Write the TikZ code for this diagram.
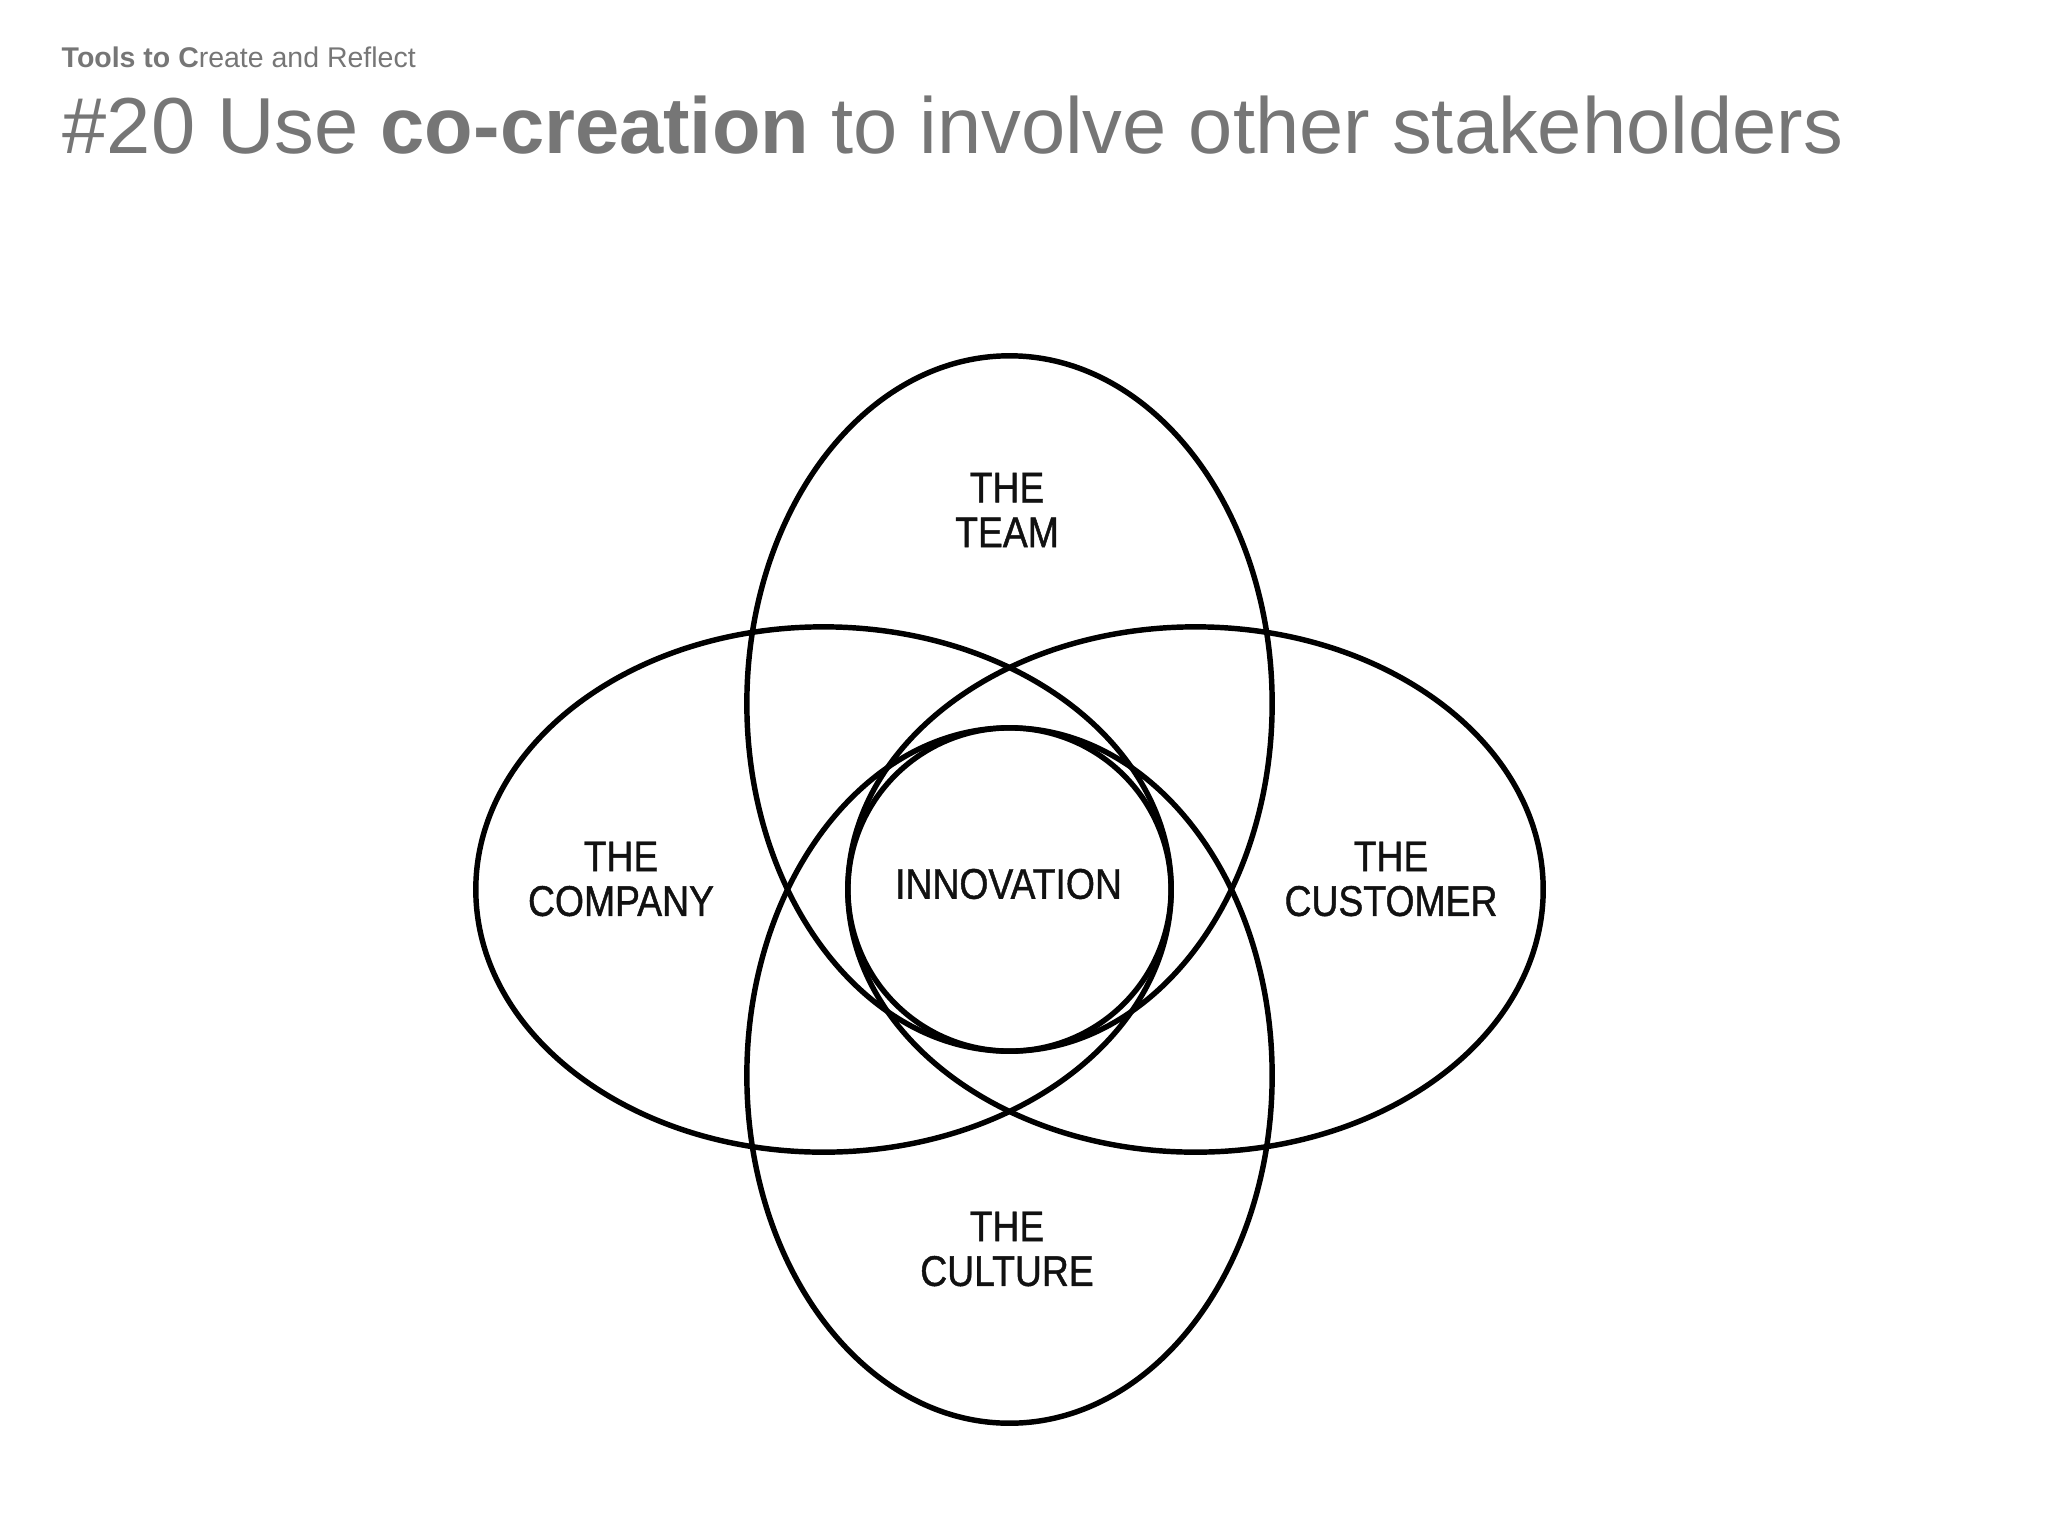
\documentclass[tikz,border=0pt]{standalone}
\usepackage{fontspec}
\setmainfont{Liberation Sans}
\newfontfamily\labelfont[FakeStretch=0.87,FakeBold=1]{Liberation Sans}
\definecolor{titlegray}{HTML}{767676}
\definecolor{labelink}{HTML}{111111}
\begin{document}
\begin{tikzpicture}[x=0.01cm,y=-0.01cm,
  ring/.style={line width=1.55pt, draw=black},
  lbl/.style={font=\labelfont\fontsize{12.2}{12.7}\selectfont, align=center, inner sep=0pt, text=labelink},
  subtitle/.style={font=\fontsize{8.1}{9}\selectfont, text=titlegray, anchor=base west, inner sep=0pt},
  maintitle/.style={font=\fontsize{22.6}{26}\selectfont, text=titlegray, anchor=base west, inner sep=0pt}]
\useasboundingbox (0,0) rectangle (2048,1536);
% titles
\node[subtitle] (sub) at (61,67) {\textbf{Tools to C}reate and Reflect};
\node[maintitle] (title) at (62,153) {\#20 Use \textbf{co-creation} to involve other stakeholders};
% ellipses
\draw[ring] (1009.5,703.5) ellipse [x radius=2.625cm, y radius=3.475cm];
\draw[ring] (1009.5,1075.5) ellipse [x radius=2.625cm, y radius=3.475cm];
\draw[ring] (823.5,889.5) ellipse [x radius=3.475cm, y radius=2.625cm];
\draw[ring] (1195.5,889.5) ellipse [x radius=3.475cm, y radius=2.625cm];
\node[ring, circle, minimum size=3.23cm, inner sep=0pt] (core) at (1009.5,889.5) {};
% labels
\node[lbl] (team) at (1007,510) {THE\\TEAM};
\node[lbl] (company) at (621,879) {THE\\COMPANY};
\node[lbl] (customer) at (1391,879) {THE\\CUSTOMER};
\node[lbl] (culture) at (1007,1249) {THE\\CULTURE};
\node[lbl] (innovation) at (1008.5,884) {INNOVATION};
\end{tikzpicture}
\end{document}
